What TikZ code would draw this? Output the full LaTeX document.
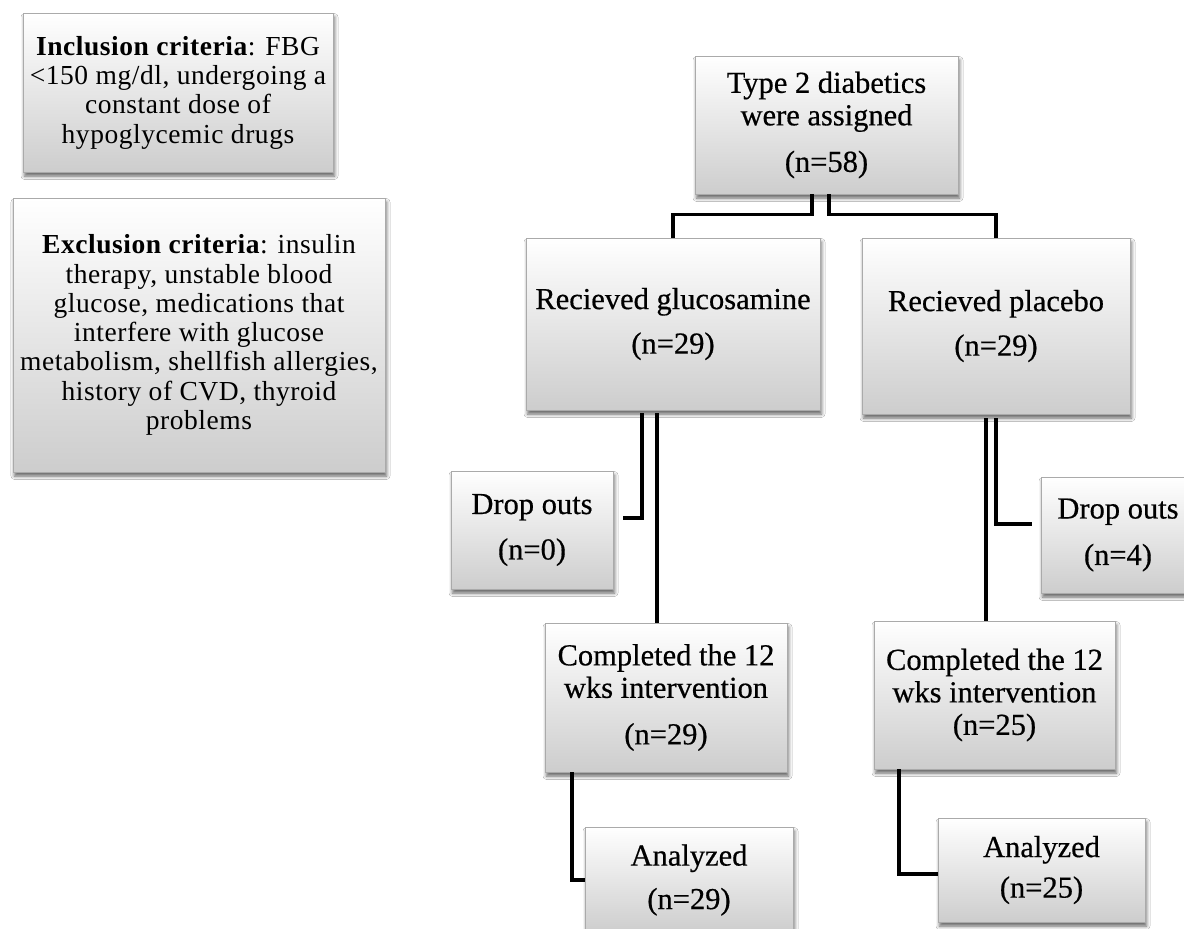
\documentclass[tikz,border=0pt]{standalone}
\usepackage{fontspec}
\setmainfont{Liberation Serif}
\newfontfamily\leftfont[LetterSpace=2]{Liberation Serif}
\newfontfamily\rightfont[FakeBold=0.5]{Liberation Serif}
\usetikzlibrary{shadows.blur,calc}
\definecolor{boxbot}{RGB}{205,205,205}
\definecolor{boxedge}{RGB}{170,170,170}
\begin{document}
\begin{tikzpicture}[x=1pt,y=-1pt,
  fbox/.style={rectangle, draw=boxedge, line width=0.9pt, top color=white, bottom color=boxbot,
    inner sep=0pt, align=center,
    blur shadow={shadow xshift=1.5pt, shadow yshift=-4pt, shadow blur radius=3.5pt, shadow opacity=60}},
  rtext/.style={font=\rightfont\fontsize{30.5}{32.5}\selectfont},
  ltext/.style={font=\leftfont\fontsize{27.5}{29.3}\selectfont},
  conn/.style={draw=black, line width=3.6pt}
]
\useasboundingbox (0,0) rectangle (1184,929);
\fill[white] (0,0) rectangle (1184,929);

% left criteria boxes
\node[fbox, ltext, minimum width=310pt, minimum height=159pt] (incl) at (178,92.5)
  {\textbf{Inclusion criteria}: FBG\\<150 mg/dl, undergoing a\\constant dose of\\hypoglycemic drugs};
\node[fbox, ltext, minimum width=372pt, minimum height=274pt] (excl) at (199,335)
  {\textbf{Exclusion criteria}: insulin\\therapy, unstable blood\\glucose, medications that\\interfere with glucose\\metabolism, shellfish allergies,\\history of CVD, thyroid\\problems};

% flow boxes
\node[fbox, rtext, minimum width=263pt, minimum height=138pt] (top) at (826.5,125)
  {Type 2 diabetics\\were assigned\\[14pt](n=58)};
\node[fbox, rtext, minimum width=294pt, minimum height=172pt] (gluc) at (673,324)
  {Recieved glucosamine\\[12pt](n=29)};
\node[fbox, rtext, minimum width=268pt, minimum height=176pt] (plac) at (996,326)
  {Recieved placebo\\[12pt](n=29)};
\node[fbox, rtext, minimum width=162pt, minimum height=118pt] (drop1) at (532,530)
  {Drop outs\\[13pt](n=0)};
\node[fbox, rtext, minimum width=154pt, minimum height=116pt] (drop2) at (1118,535)
  {Drop outs\\[14pt](n=4)};
\node[fbox, rtext, minimum width=242pt, minimum height=149pt] (comp1) at (666,697.5)
  {Completed the 12\\wks intervention\\[14pt](n=29)};
\node[fbox, rtext, minimum width=241pt, minimum height=148pt] (comp2) at (994.5,695)
  {Completed the 12\\wks intervention\\(n=25)};
\node[fbox, rtext, minimum width=208pt, minimum height=106pt] (anal1) at (689,880)
  {Analyzed\\[11pt](n=29)};
\node[fbox, rtext, minimum width=207pt, minimum height=104pt] (anal2) at (1041.5,870)
  {Analyzed\\[8pt](n=25)};

% connectors
\draw[conn] ([xshift=-14.5pt]top.south) -- ++(0,20) -| (gluc.north);
\draw[conn] ([xshift=2.5pt]top.south) -- ++(0,20) -| (plac.north);
\draw[conn] ([xshift=-31pt,yshift=-3pt]gluc.south) |- ([xshift=10pt,yshift=12pt]drop1.east);
\draw[conn] ([xshift=-16pt,yshift=-3pt]gluc.south) -- ([xshift=-16pt]gluc.south |- comp1.north);
\draw[conn] ([xshift=-10pt,yshift=-4pt]plac.south) -- ([xshift=-10pt]plac.south |- comp2.north);
\draw[conn] ([yshift=-4pt]plac.south) |- ([xshift=-9pt,yshift=11pt]drop2.west);
\draw[conn] ([xshift=-94pt]comp1.south) |- (anal1.west);
\draw[conn] ([xshift=-95.5pt]comp2.south) |- ([yshift=-4pt]anal2.west);
\end{tikzpicture}
\end{document}
